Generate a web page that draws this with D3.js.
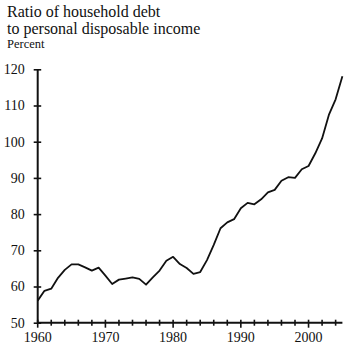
<!DOCTYPE html>
<html>
<head>
<meta charset="utf-8">
<script src="https://cdn.jsdelivr.net/npm/d3@7"></script>
</head>
<body style="margin:0">
<svg id="chart" width="350" height="350" font-family="Liberation Serif"></svg>
<script>
// Household debt as a share of personal disposable income, annual
const years = d3.range(1960, 2006);
const ratio = [
  56.1, 58.8, 59.4, 62.4, 64.6, 66.1, 66.1, 65.3, 64.4, 65.2,
  63.0, 60.7, 61.9, 62.2, 62.5, 62.1, 60.5, 62.5, 64.4, 67.1,
  68.2, 66.2, 65.1, 63.5, 64.0, 67.3, 71.5, 76.1, 77.7, 78.6,
  81.6, 83.1, 82.7, 84.1, 86.0, 86.7, 89.2, 90.2, 90.0, 92.4,
  93.3, 96.8, 100.9, 107.4, 111.7, 118.1
];
const yTicks = [50, 60, 70, 80, 90, 100, 110, 120];
const xLabelYears = [1960, 1970, 1980, 1990, 2000];
const xMinorYears = d3.range(1960, 2005, 2);
const titleLines = ["Ratio of household debt", "to personal disposable income"];
const unitLabel = "Percent";

const FONT = "Liberation Serif";
const INK = "#111";

const svg = d3.select("#chart");
const x = d3.scaleLinear().domain([1960, 2005]).range([37.7, 342.4]);
const y = d3.scaleLinear().domain([50, 120]).range([322.7, 69.3]);

// Title and unit
svg.selectAll("text.title").data(titleLines).join("text")
  .attr("class", "title")
  .attr("x", 7).attr("y", (d, i) => 17 + i * 16.5)
  .attr("font-family", FONT).attr("font-size", 16).attr("fill", INK)
  .text(d => d);
svg.append("text").attr("x", 7).attr("y", 48)
  .attr("font-family", FONT).attr("font-size", 12.5).attr("fill", INK)
  .text(unitLabel);

// Y axis: ticks straddle the axis line
const yAxis = d3.axisLeft(y).tickValues(yTicks).tickSize(4).tickPadding(9).tickFormat(d3.format("d"));
const gy = svg.append("g").attr("transform", `translate(${x.range()[0]},0)`).call(yAxis)
  .attr("font-family", FONT).attr("font-size", 14);
gy.select(".domain").remove();
gy.append("line").attr("x1", 0).attr("x2", 0).attr("y1", y(120)).attr("y2", y(50))
  .attr("stroke", INK).attr("stroke-width", 2);
gy.selectAll(".tick line").attr("x1", -4).attr("x2", 3.5).attr("stroke", INK).attr("stroke-width", 1.6);
gy.selectAll(".tick text").attr("fill", INK).attr("font-family", FONT);

// X axis: minor ticks every two years, labels every decade
const gx = svg.append("g").attr("transform", `translate(0,${y.range()[0]})`);
gx.append("line").attr("x1", x(1960)).attr("x2", x(2005)).attr("y1", 0).attr("y2", 0)
  .attr("stroke", INK).attr("stroke-width", 2);
gx.selectAll("line.minor").data(xMinorYears).join("line")
  .attr("class", "minor")
  .attr("x1", d => x(d)).attr("x2", d => x(d))
  .attr("y1", -3).attr("y2", d => d % 10 === 0 ? 5 : 3)
  .attr("stroke", INK).attr("stroke-width", 1.6);
gx.selectAll("text").data(xLabelYears).join("text")
  .attr("x", d => x(d)).attr("y", 19)
  .attr("text-anchor", "middle")
  .attr("font-family", FONT).attr("font-size", 14).attr("fill", INK)
  .text(d => d);

// Series line
const line = d3.line().x((d, i) => x(years[i])).y(d => y(d));
svg.append("path").datum(ratio)
  .attr("d", line)
  .attr("fill", "none").attr("stroke", INK).attr("stroke-width", 1.8)
  .attr("stroke-linejoin", "round");
</script>
</body>
</html>
